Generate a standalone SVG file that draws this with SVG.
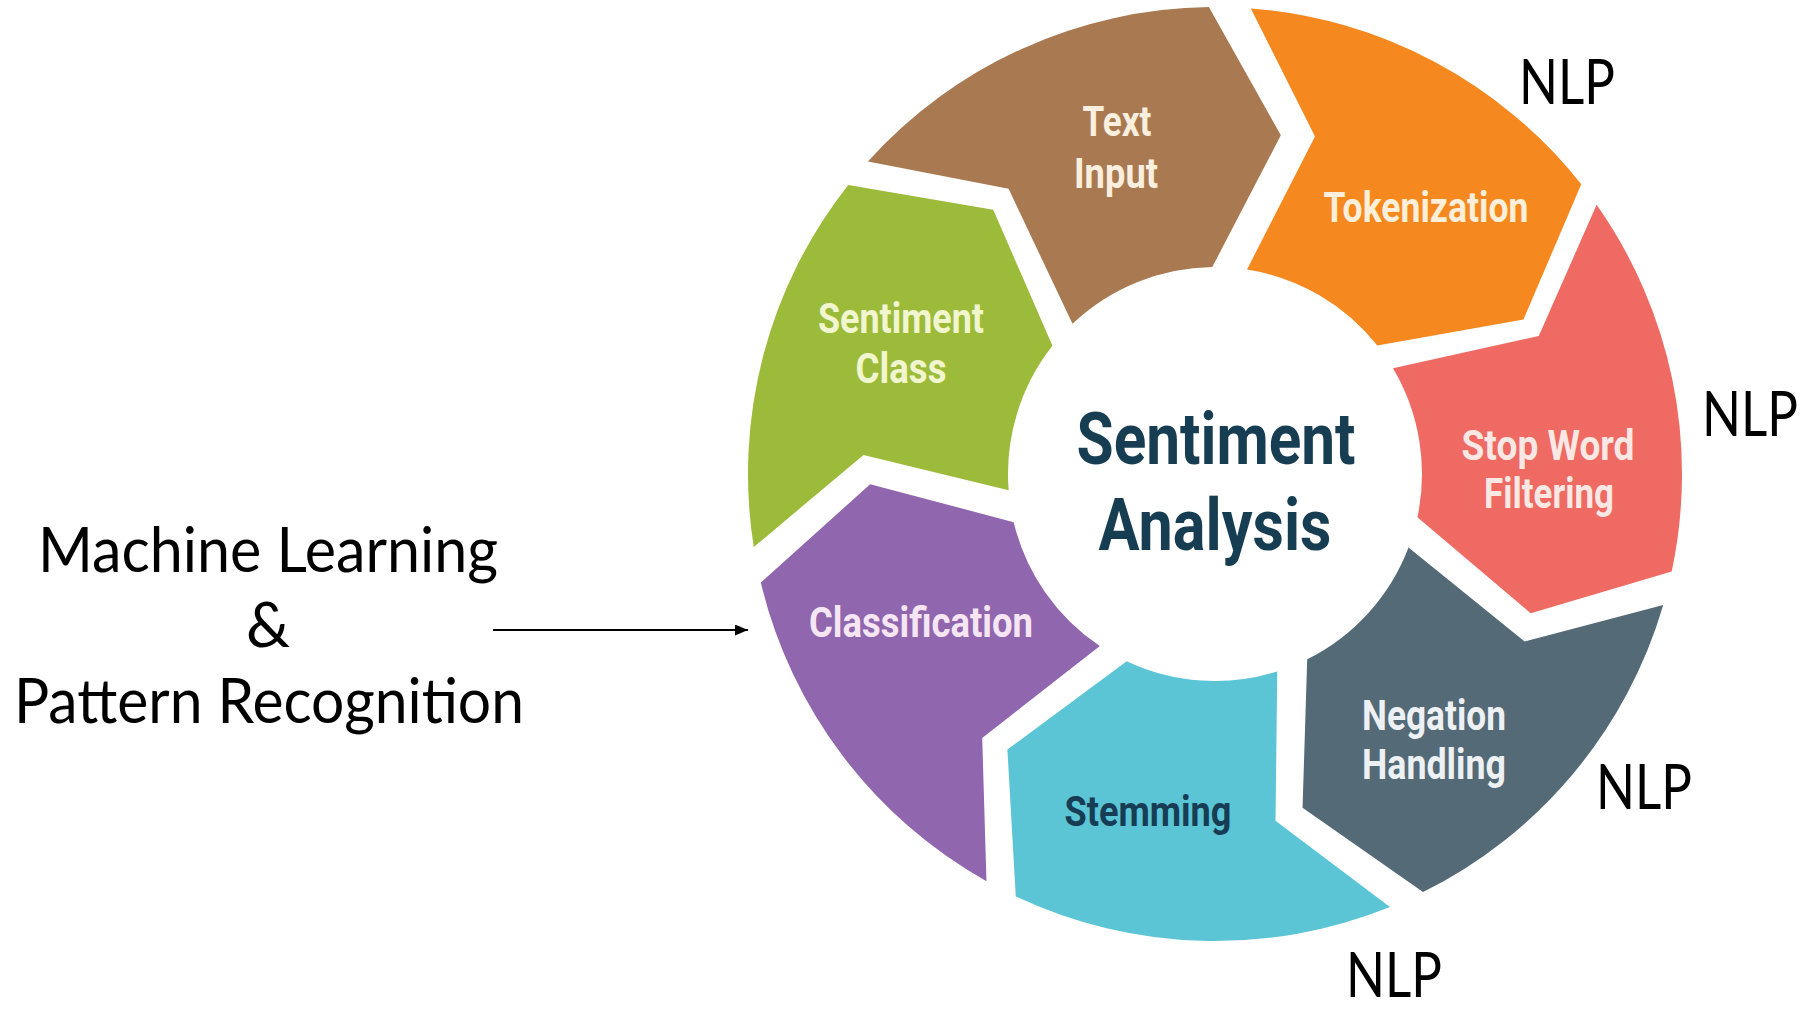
<svg xmlns="http://www.w3.org/2000/svg" xmlns:xlink="http://www.w3.org/1999/xlink" width="1805" height="1010" viewBox="0 0 1805 1010">
  <style>
    .seg-label { font-family: Roboto, "Liberation Sans", sans-serif; font-weight: 700; font-size: 42px; text-anchor: middle; }
    .hub-label { font-family: Roboto, "Liberation Sans", sans-serif; font-weight: 700; font-size: 72px; text-anchor: middle; fill: #173D52; }
    .note { font-family: Lato, "Open Sans", "Liberation Sans", sans-serif; font-size: 62px; fill: #000000; text-anchor: middle; }
    .connector { stroke: #000000; stroke-width: 2; fill: none; }
  </style>
  <defs>
    <!-- One ring segment in a local frame: trailing edge at 0deg with a notch, leading edge at 47.2deg with a point -->
    <path id="segment" d="M467,0 L344.18,73.79 L206.36,16.24 A207,207 0 0 1 140.51,152 L177.69,295.72 L317,342.93 A467,467 0 0 0 467,0 Z"/>
    <marker id="arrowhead" markerUnits="userSpaceOnUse" markerWidth="13" markerHeight="11" refX="13" refY="5.5" orient="auto">
      <path d="M0,0 L13,5.5 L0,11 Z" fill="#000000"/>
    </marker>
  </defs>

  <rect width="1805" height="1010" fill="#FFFFFF"/>

  <!-- Ring of process steps, clockwise -->
  <g id="text-input">
    <use xlink:href="#segment" href="#segment" transform="translate(1215,474) rotate(-138)" fill="#A97A52"/>
    <text class="seg-label" fill="#FAEFDF" x="1117" y="136" textLength="69" lengthAdjust="spacingAndGlyphs">Text</text>
    <text class="seg-label" fill="#FAEFDF" x="1116" y="188" textLength="84" lengthAdjust="spacingAndGlyphs">Input</text>
  </g>

  <g id="tokenization">
    <use xlink:href="#segment" href="#segment" transform="translate(1215,474) rotate(-85.6)" fill="#F5891F"/>
    <text class="seg-label" fill="#FDEFD9" x="1426" y="222" textLength="205" lengthAdjust="spacingAndGlyphs">Tokenization</text>
  </g>

  <g id="stop-word-filtering">
    <use xlink:href="#segment" href="#segment" transform="translate(1215,474) rotate(-35.2)" fill="#EE6A62"/>
    <text class="seg-label" fill="#FBE8E4" x="1548" y="460" textLength="173" lengthAdjust="spacingAndGlyphs">Stop Word</text>
    <text class="seg-label" fill="#FBE8E4" x="1549" y="508" textLength="130" lengthAdjust="spacingAndGlyphs">Filtering</text>
  </g>

  <g id="negation-handling">
    <use xlink:href="#segment" href="#segment" transform="translate(1215,474) rotate(16.3)" fill="#546A76"/>
    <text class="seg-label" fill="#EDF1F3" x="1434" y="730" textLength="144" lengthAdjust="spacingAndGlyphs">Negation</text>
    <text class="seg-label" fill="#EDF1F3" x="1434" y="779" textLength="144" lengthAdjust="spacingAndGlyphs">Handling</text>
  </g>

  <g id="stemming">
    <use xlink:href="#segment" href="#segment" transform="translate(1215,474) rotate(68)" fill="#5CC5D5"/>
    <text class="seg-label" fill="#173D55" x="1148" y="826" textLength="167" lengthAdjust="spacingAndGlyphs">Stemming</text>
  </g>

  <g id="classification">
    <use xlink:href="#segment" href="#segment" transform="translate(1215,474) rotate(119.3)" fill="#9066AE"/>
    <text class="seg-label" fill="#F6E6F4" x="921" y="637" textLength="224" lengthAdjust="spacingAndGlyphs">Classification</text>
  </g>

  <g id="sentiment-class">
    <use xlink:href="#segment" href="#segment" transform="translate(1215,474) rotate(171)" fill="#9DBB3B"/>
    <text class="seg-label" fill="#F1F6CF" x="901" y="333" textLength="166" lengthAdjust="spacingAndGlyphs">Sentiment</text>
    <text class="seg-label" fill="#F1F6CF" x="901" y="383" textLength="91" lengthAdjust="spacingAndGlyphs">Class</text>
  </g>

  <!-- Hub title -->
  <g id="sentiment-analysis">
    <text class="hub-label" x="1216" y="464" textLength="279" lengthAdjust="spacingAndGlyphs">Sentiment</text>
    <text class="hub-label" x="1215" y="550" textLength="233" lengthAdjust="spacingAndGlyphs">Analysis</text>
  </g>

  <!-- Annotations: narrowed horizontally so each reads 96px wide -->
  <g id="nlp-tokenization">
    <text class="note" transform="translate(1567,104) scale(0.82,1)" textLength="117" lengthAdjust="spacingAndGlyphs">NLP</text>
  </g>
  <g id="nlp-stop-word">
    <text class="note" transform="translate(1750,436) scale(0.82,1)" textLength="117" lengthAdjust="spacingAndGlyphs">NLP</text>
  </g>
  <g id="nlp-negation">
    <text class="note" transform="translate(1644,809) scale(0.82,1)" textLength="117" lengthAdjust="spacingAndGlyphs">NLP</text>
  </g>
  <g id="nlp-stemming">
    <text class="note" transform="translate(1394,997) scale(0.82,1)" textLength="117" lengthAdjust="spacingAndGlyphs">NLP</text>
  </g>

  <g id="ml-pattern-recognition">
    <text class="note" x="268" y="572" textLength="460" lengthAdjust="spacingAndGlyphs">Machine Learning</text>
    <text class="note" x="268" y="647">&amp;</text>
    <text class="note" x="269" y="723" textLength="510" lengthAdjust="spacingAndGlyphs">Pattern Recognition</text>
  </g>

  <g id="connectors">
    <line class="connector" x1="493" y1="630" x2="748" y2="630" marker-end="url(#arrowhead)"/>
  </g>
</svg>
